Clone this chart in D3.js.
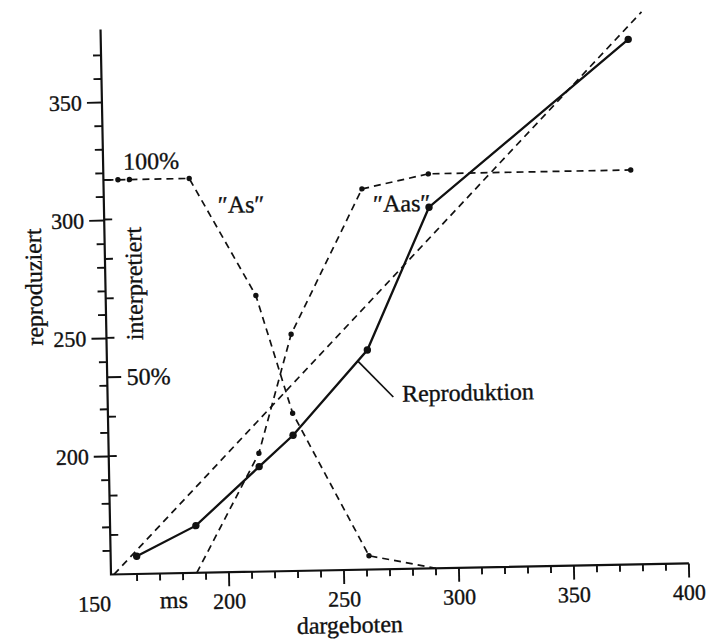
<!DOCTYPE html>
<html>
<head>
<meta charset="utf-8">
<script src="https://cdn.jsdelivr.net/npm/d3@7"></script>
<style>
  body { margin: 0; background: #fff; }
  text { font-family: "Liberation Serif", "Times New Roman", serif; fill: #111; stroke: #111; stroke-width: 0.35px; }
</style>
</head>
<body>
<div class="chart"></div>
<script>
// presented durations (ms) with the answers
var asX = [150, 155, 160, 186, 214, 229, 261, 290];
var asPct = [100, 100, 100, 100, 70, 40, 3.5, 0];

var aasX = [186, 214, 229, 261, 290, 378];
var aasPct = [0, 30, 60, 96.5, 100, 100];

var reproX = [160, 186, 214, 229, 262, 290, 378];
var reproY = [157.5, 170, 194.5, 207.5, 243, 303, 372.5];

// reproduced = presented
var diagX = [150, 384];

var xMajor = [200, 250, 300, 350, 400];
var yMajor = [200, 250, 300, 350];
var pctTicks = [10, 20, 30, 40, 60, 70, 80, 90, 100];

var svgWidth = 713;
var svgHeight = 641;

var svg = d3.select(".chart")
  .append("svg")
  .attr("width", svgWidth)
  .attr("height", svgHeight);

// the printed page sits about a degree askew
var chartGroup = svg.append("g")
  .attr("transform", "translate(111,574.5) rotate(-1.1)");

var xScale = d3.scaleLinear().domain([150, 400]).range([3, 578]);
var yScale = d3.scaleLinear().domain([150, 381]).range([0, -545.2]);
var pScale = d3.scaleLinear().domain([0, 100]).range([0, -394.5]);

var ink = "#111";

// axis lines
chartGroup.append("path")
  .attr("d", "M" + xScale(400) + ",0H0V" + yScale(381))
  .attr("fill", "none")
  .attr("stroke", ink).attr("stroke-width", 2.2);

// tick marks
var xMinor = d3.range(160, 400, 10).filter(v => v % 50 !== 0);
var yMinor = d3.range(160, 380, 10).filter(v => v % 50 !== 0);

xMinor.map(v => [v, 7]).concat(xMajor.map(v => [v, 14])).forEach(function(d) {
  chartGroup.append("line")
    .attr("x1", xScale(d[0])).attr("x2", xScale(d[0]))
    .attr("y1", 0).attr("y2", d[1])
    .attr("stroke", ink).attr("stroke-width", 1.9);
});

yMinor.map(v => [v, -8]).concat(yMajor.map(v => [v, -15])).forEach(function(d) {
  chartGroup.append("line")
    .attr("x1", 0).attr("x2", d[1])
    .attr("y1", yScale(d[0])).attr("y2", yScale(d[0]))
    .attr("stroke", ink).attr("stroke-width", 1.9);
});

// percent ticks sit on the right of the same axis
pctTicks.map(v => [v, 8]).concat([[50, 14]]).forEach(function(d) {
  chartGroup.append("line")
    .attr("x1", 0).attr("x2", d[1])
    .attr("y1", pScale(d[0])).attr("y2", pScale(d[0]))
    .attr("stroke", ink).attr("stroke-width", 1.9);
});

// tick labels
chartGroup.append("g").selectAll("text")
  .data(xMajor)
  .enter()
  .append("text")
  .attr("x", d => xScale(d))
  .attr("y", 36.5)
  .attr("text-anchor", "middle")
  .attr("font-size", 22)
  .text(d => d);

chartGroup.append("text")
  .attr("x", xScale(150) - 20)
  .attr("y", 36.5)
  .attr("text-anchor", "middle")
  .attr("font-size", 22)
  .text("150");

chartGroup.append("g").selectAll("text")
  .data(yMajor)
  .enter()
  .append("text")
  .attr("x", -20)
  .attr("y", d => yScale(d))
  .attr("dy", "0.34em")
  .attr("text-anchor", "end")
  .attr("font-size", 22)
  .text(d => d);

// series
var pLine = d3.line().x(d => xScale(d[0])).y(d => pScale(d[1]));
var yLine = d3.line().x(d => xScale(d[0])).y(d => yScale(d[1]));

var asData = asX.map((v, i) => [v, asPct[i]]);
var aasData = aasX.map((v, i) => [v, aasPct[i]]);
var reproData = reproX.map((v, i) => [v, reproY[i]]);
var diagData = diagX.map(v => [v, v]);

chartGroup.append("path")
  .attr("d", yLine(diagData))
  .attr("fill", "none").attr("stroke", ink)
  .attr("stroke-width", 1.7).attr("stroke-dasharray", "7,5");

chartGroup.append("path")
  .attr("d", pLine(asData))
  .attr("fill", "none").attr("stroke", ink)
  .attr("stroke-width", 1.7).attr("stroke-dasharray", "7,5");

chartGroup.append("path")
  .attr("d", pLine(aasData))
  .attr("fill", "none").attr("stroke", ink)
  .attr("stroke-width", 1.7).attr("stroke-dasharray", "7,5");

chartGroup.append("path")
  .attr("d", yLine(reproData))
  .attr("fill", "none").attr("stroke", ink)
  .attr("stroke-width", 2.3);

// dots (none where a curve meets an axis)
chartGroup.selectAll(".pdot")
  .data(asData.concat(aasData).filter(d => d[0] > 150 && d[1] > 0))
  .enter()
  .append("circle")
  .attr("class", "pdot")
  .attr("cx", d => xScale(d[0]))
  .attr("cy", d => pScale(d[1]))
  .attr("r", 2.7)
  .attr("fill", ink);

chartGroup.selectAll(".rdot")
  .data(reproData)
  .enter()
  .append("circle")
  .attr("class", "rdot")
  .attr("cx", d => xScale(d[0]))
  .attr("cy", d => yScale(d[1]))
  .attr("r", 3.7)
  .attr("fill", ink);

// labels
chartGroup.append("line")
  .attr("x1", xScale(257.9)).attr("y1", yScale(238.3))
  .attr("x2", xScale(272.9)).attr("y2", yScale(222.9))
  .attr("stroke", ink).attr("stroke-width", 1.7);

chartGroup.append("text")
  .attr("x", xScale(276.7)).attr("y", yScale(220.8))
  .attr("font-size", 24)
  .text("Reproduktion");

chartGroup.append("text")
  .attr("x", xScale(198.2)).attr("y", pScale(91.1))
  .attr("font-size", 24)
  .text("\u2033As\u2033");

chartGroup.append("text")
  .attr("x", xScale(265.7)).attr("y", pScale(90.6))
  .attr("font-size", 24)
  .text("\u2033Aas\u2033");

chartGroup.append("text")
  .attr("x", 20).attr("y", pScale(100) - 10)
  .attr("font-size", 24)
  .text("100%");

chartGroup.append("text")
  .attr("x", 19.5).attr("y", pScale(50) + 8)
  .attr("font-size", 24)
  .text("50%");

chartGroup.append("text")
  .attr("transform", "translate(-63.5,-288.8) rotate(-90)")
  .attr("text-anchor", "middle")
  .attr("font-size", 24)
  .text("reproduziert");

chartGroup.append("text")
  .attr("transform", "translate(36.6,-290.4) rotate(-90)")
  .attr("text-anchor", "middle")
  .attr("font-size", 24)
  .text("interpretiert");

chartGroup.append("text")
  .attr("x", xScale(175.8)).attr("y", 34.7)
  .attr("text-anchor", "middle")
  .attr("font-size", 24)
  .text("ms");

chartGroup.append("text")
  .attr("x", xScale(252.1)).attr("y", 63)
  .attr("text-anchor", "middle")
  .attr("font-size", 24)
  .text("dargeboten");
</script>
</body>
</html>
